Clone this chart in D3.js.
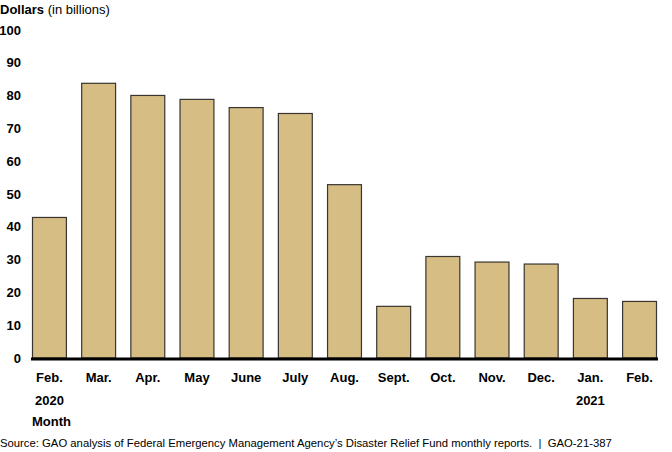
<!DOCTYPE html>
<html>
<head>
<meta charset="utf-8">
<script src="https://cdn.jsdelivr.net/npm/d3@7"></script>
<style>
  body { margin: 0; background: #fff; }
  text { font-family: "Liberation Sans", Arial, sans-serif; }
</style>
</head>
<body>
<div class="main"></div>
<script>
// Données
const mois = ['Feb.', 'Mar.', 'Apr.', 'May', 'June', 'July', 'Aug.', 'Sept.', 'Oct.', 'Nov.', 'Dec.', 'Jan.', 'Feb.'];
const annees = ['2020', '', '', '', '', '', '', '', '', '', '', '2021', ''];
const montants = [43.0, 83.9, 80.2, 79.0, 76.5, 74.7, 53.0, 15.9, 31.1, 29.4, 28.8, 18.3, 17.4];
const yTicks = [0, 10, 20, 30, 40, 50, 60, 70, 80, 90, 100];

const width = 672;
const height = 452;
const margin = { top: 30, right: 15, bottom: 94, left: 32 };

const data = mois.map((m, i) => ({ i: i, mois: m, annee: annees[i], valeur: montants[i] }));

const svg = d3.select('.main')
  .append('svg')
  .attr('width', width)
  .attr('height', height);

const x = d3.scaleBand()
  .domain(data.map(d => d.i))
  .range([margin.left, width - margin.right])
  .paddingInner(0.29)
  .paddingOuter(0);

const y = d3.scaleLinear()
  .domain([0, 100])
  .range([height - margin.bottom, margin.top]);

// Titre de l'axe vertical
svg.append('text')
  .attr('x', 0)
  .attr('y', 14)
  .style('font-size', '13px')
  .call(t => t.append('tspan').style('font-weight', 'bold').text('Dollars'))
  .call(t => t.append('tspan').text(' (in billions)'));

// Axe vertical (étiquettes seulement)
svg.append('g')
  .attr('transform', `translate(${margin.left - 11}, 0)`)
  .call(d3.axisLeft(y).tickValues(yTicks).tickSize(0).tickPadding(0))
  .call(g => g.select('.domain').remove())
  .call(g => g.selectAll('text')
    .style('font-family', '"Liberation Sans", Arial, sans-serif')
    .style('font-size', '13px')
    .style('font-weight', 'bold')
    .attr('fill', '#000'));

// Barres
svg.append('g')
  .selectAll('rect')
  .data(data)
  .enter()
  .append('rect')
  .attr('x', d => x(d.i) + 0.5)
  .attr('y', d => y(d.valeur) + 0.5)
  .attr('width', x.bandwidth() - 1)
  .attr('height', d => y(0) - y(d.valeur) - 0.5)
  .attr('fill', '#d5bd83')
  .attr('stroke', '#3a3530')
  .attr('stroke-width', 1.2);

// Ligne de base
svg.append('line')
  .attr('x1', margin.left - 1)
  .attr('x2', width - margin.right + 1)
  .attr('y1', y(0) + 1)
  .attr('y2', y(0) + 1)
  .attr('stroke', '#000')
  .attr('stroke-width', 3);

// Axe horizontal : mois et années
const xAxis = svg.append('g')
  .attr('transform', `translate(0, ${y(0)})`)
  .call(d3.axisBottom(x).tickSize(0).tickPadding(15).tickFormat(i => mois[i]))
  .call(g => g.select('.domain').remove());

xAxis.selectAll('text')
  .style('font-family', '"Liberation Sans", Arial, sans-serif')
  .style('font-size', '13px')
  .style('font-weight', 'bold')
  .attr('fill', '#000');

svg.append('g')
  .selectAll('text')
  .data(data.filter(d => d.annee))
  .enter()
  .append('text')
  .attr('x', d => x(d.i) + x.bandwidth() / 2)
  .attr('y', y(0) + 47)
  .attr('text-anchor', 'middle')
  .style('font-size', '13px')
  .style('font-weight', 'bold')
  .text(d => d.annee);

svg.append('text')
  .attr('x', 32)
  .attr('y', y(0) + 68)
  .style('font-size', '13px')
  .style('font-weight', 'bold')
  .text('Month');

// Source
svg.append('text')
  .attr('x', 0)
  .attr('y', 447)
  .style('font-size', '11.3px')
  .style('white-space', 'pre')
  .text('Source: GAO analysis of Federal Emergency Management Agency\u2019s Disaster Relief Fund monthly reports.  |  GAO-21-387');
</script>
</body>
</html>
